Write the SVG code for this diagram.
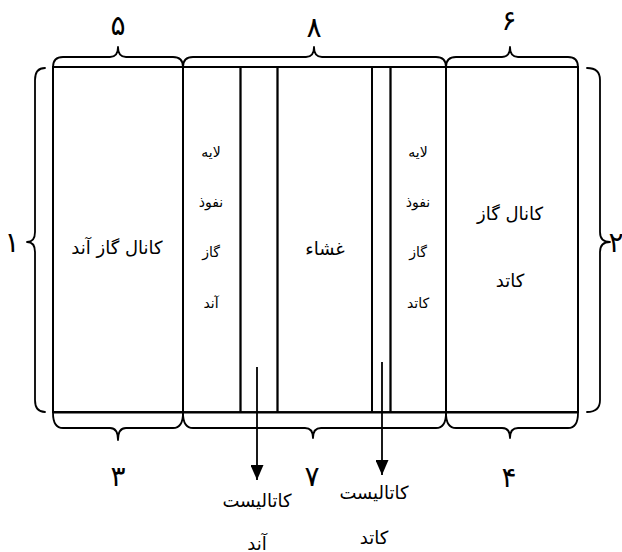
<svg xmlns="http://www.w3.org/2000/svg" width="622" height="552" viewBox="0 0 622 552">
<style>
.ln{stroke:#000;stroke-width:2;fill:none}
.vl{stroke:#000;stroke-width:1.8;fill:none}
.br{stroke:#000;stroke-width:1.8;fill:none;stroke-linecap:round;stroke-linejoin:round}
.t{font-family:"DejaVu Sans",sans-serif;fill:#000;text-anchor:middle;dominant-baseline:central}
.lg{font-size:18px}
.sm{font-size:14px}
.num{font-size:28px}
</style>
<defs>
<marker id="ah" markerWidth="15" markerHeight="13" refX="15" refY="6.5" orient="auto" markerUnits="userSpaceOnUse" viewBox="0 0 15 13">
<path d="M0,0 L15,6.5 L0,13 Z" fill="#000"/>
</marker>
</defs>
<rect width="622" height="552" fill="#fff"/>
<g id="anode-channel">
<rect x="53" y="67" width="130" height="345" class="ln"/>
<text class="t lg" x="117" y="247">کانال گاز آند</text>
</g>
<g id="anode-gdl">
<rect x="183" y="67" width="57.5" height="345" class="vl"/>
<text class="t sm" x="211" y="152">لایه</text>
<text class="t sm" x="211" y="202">نفوذ</text>
<text class="t sm" x="211" y="252">گاز</text>
<text class="t sm" x="211" y="303">آند</text>
</g>
<g id="anode-catalyst">
<rect x="240.5" y="67" width="37" height="345" class="vl"/>
</g>
<g id="membrane">
<rect x="277.5" y="67" width="94.5" height="345" class="vl"/>
<text class="t lg" x="325" y="248">غشاء</text>
</g>
<g id="cathode-catalyst">
<rect x="372" y="67" width="18.5" height="345" class="vl"/>
</g>
<g id="cathode-gdl">
<rect x="390.5" y="67" width="55.5" height="345" class="vl"/>
<text class="t sm" x="418" y="152">لایه</text>
<text class="t sm" x="418" y="202">نفوذ</text>
<text class="t sm" x="418" y="252">گاز</text>
<text class="t sm" x="418" y="303">کاتد</text>
</g>
<g id="cathode-channel">
<rect x="446" y="67" width="132" height="345" class="ln"/>
<text class="t lg" x="510" y="213">کانال گاز</text>
<text class="t lg" x="510" y="280">کاتد</text>
</g>
<g id="outline">
<line x1="53" y1="67" x2="578" y2="67" class="ln"/>
<line x1="53" y1="412.5" x2="578" y2="412.5" class="ln"/>
</g>
<g id="braces">
<path class="br" d="M53,67 Q53,57 63,57 L110,57 Q118,57 118,47 Q118,57 126,57 L173,57 Q183,57 183,67"/>
<path class="br" d="M183,67 Q183,57 193,57 L306,57 Q314,57 314,47 Q314,57 322,57 L436,57 Q446,57 446,67"/>
<path class="br" d="M446,67 Q446,57 456,57 L502,57 Q510,57 510,47 Q510,57 518,57 L568,57 Q578,57 578,67"/>
<path class="br" d="M53,413 Q53,428 63,428 L110,428 Q118,428 118,440 Q118,428 126,428 L173,428 Q183,428 183,413"/>
<path class="br" d="M183,413 Q183,428 193,428 L305,428 Q313,428 313,438 Q313,428 321,428 L436,428 Q446,428 446,413"/>
<path class="br" d="M446,413 Q446,428 456,428 L502,428 Q510,428 510,438 Q510,428 518,428 L568,428 Q578,428 578,413"/>
<path class="br" d="M45,68 Q35,68 35,80 L35,232 Q35,242 27,242 Q35,242 35,252 L35,400 Q35,412 45,412"/>
<path class="br" d="M587,68 Q600,68 600,80 L600,232 Q600,242 610,242 Q600,242 600,252 L600,400 Q600,412 587,412"/>
<text class="t num" x="118" y="25">۵</text>
<text class="t num" x="314" y="27">۸</text>
<text class="t num" x="509" y="20">۶</text>
<text class="t num" x="12" y="242">۱</text>
<text class="t num" x="616" y="242">۲</text>
<text class="t num" x="118" y="476">۳</text>
<text class="t num" x="312" y="476">۷</text>
<text class="t num" x="509" y="477">۴</text>
</g>
<g id="connectors">
<line x1="257" y1="367" x2="257" y2="480" class="vl" marker-end="url(#ah)"/>
<line x1="382" y1="362" x2="382" y2="475" class="vl" marker-end="url(#ah)"/>
</g>
<g id="catalyst-labels">
<text class="t lg" x="257" y="500">کاتالیست</text>
<text class="t lg" x="257" y="543">آند</text>
<text class="t lg" x="374" y="492">کاتالیست</text>
<text class="t lg" x="374" y="537">کاتد</text>
</g>
</svg>
